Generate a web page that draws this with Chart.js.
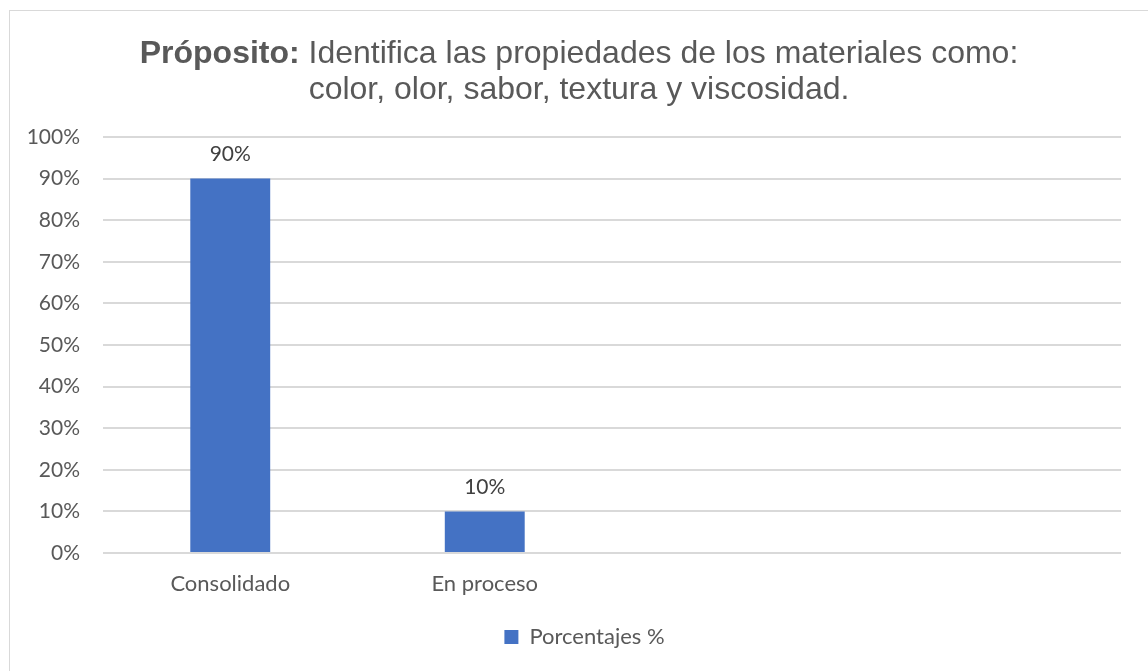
<!DOCTYPE html>
<html lang="es">
<head>
<meta charset="utf-8">
<title>Próposito</title>
<script src="https://cdn.jsdelivr.net/npm/chart.js@4"></script>
<style>
  html, body { margin: 0; padding: 0; background: #fff; }
  body { width: 1148px; height: 671px; overflow: hidden; position: relative; }
  #frame {
    position: absolute; left: 9px; top: 10px; width: 1160px; height: 680px;
    border-left: 1.5px solid #d9d9d9; border-top: 1.5px solid #d9d9d9;
  }
  #chart-title {
    position: absolute; left: 9px; top: 34px; width: 1140px;
    text-align: center; font-family: "Liberation Sans", Arial, sans-serif;
    font-size: 32px; line-height: 36px; color: #595959;
  }
  #chart-title b { font-weight: bold; }
  #wrap { position: absolute; left: 0; top: 0; width: 1148px; height: 671px; }
</style>
</head>
<body>
<div id="frame"></div>
<div id="wrap"><canvas id="myChart"></canvas></div>
<div id="chart-title"><b>Próposito:</b> Identifica las propiedades de los materiales como:<br>color, olor, sabor, textura y viscosidad.</div>
<script>
// --- Data ---
const categories = ["Consolidado", "En proceso", "", ""];
const porcentajes = [90, 10, null, null];
const seriesName = "Porcentajes %";
const yTicks = [0, 10, 20, 30, 40, 50, 60, 70, 80, 90, 100];

const BAR_COLOR = "#4472C4";
const TEXT_COLOR = "#595959";
const GRID_COLOR = "#d9d9d9";

// value labels above each bar
const barValueLabels = {
    id: "barValueLabels",
    afterDatasetsDraw(chart) {
        const ctx = chart.ctx;
        const meta = chart.getDatasetMeta(0);
        ctx.save();
        ctx.font = "21px Lato";
        ctx.fillStyle = "#404040";
        ctx.textAlign = "center";
        ctx.textBaseline = "middle";
        meta.data.forEach((bar, i) => {
            const v = porcentajes[i];
            if (v === null || v === undefined) return;
            ctx.fillText(v + "%", bar.x, bar.y - 24);
        });
        ctx.restore();
    }
};

// legend sits a bit right of the canvas centre, under the whole frame
const legendOffset = {
    id: "legendOffset",
    afterLayout(chart) {
        chart.legend.left += 24;
        chart.legend.right += 24;
    }
};

const ctx = document.getElementById("myChart").getContext("2d");
new Chart(ctx, {
    type: "bar",
    data: {
        labels: categories,
        datasets: [{
            label: seriesName,
            data: porcentajes,
            backgroundColor: BAR_COLOR,
            borderWidth: 0,
            categoryPercentage: 1,
            barPercentage: 0.314
        }]
    },
    options: {
        responsive: true,
        maintainAspectRatio: false,
        animation: false,
        devicePixelRatio: 1,
        layout: { padding: { left: 0, right: 27, top: 137, bottom: 13 } },
        plugins: {
            title: { display: false },
            tooltip: { enabled: false },
            legend: {
                position: "bottom",
                labels: {
                    color: TEXT_COLOR,
                    font: { family: "Lato", size: 22 },
                    boxWidth: 14,
                    boxHeight: 14,
                    padding: 10
                }
            }
        },
        scales: {
            x: {
                grid: { display: false, drawTicks: false },
                border: { display: false },
                ticks: {
                    color: TEXT_COLOR,
                    font: { family: "Lato", size: 22 },
                    padding: 18,
                    maxRotation: 0
                },
                afterFit(scale) { scale.height = 63; }
            },
            y: {
                min: 0,
                max: 100,
                grid: { color: GRID_COLOR, lineWidth: 2, drawTicks: false },
                border: { display: false },
                ticks: {
                    stepSize: 10,
                    color: TEXT_COLOR,
                    font: { family: "Lato", size: 21 },
                    padding: 23,
                    callback: (v) => yTicks.includes(v) ? v + "%" : ""
                },
                afterFit(scale) { scale.width = 103; }
            }
        }
    },
    plugins: [barValueLabels, legendOffset]
});
</script>
</body>
</html>
